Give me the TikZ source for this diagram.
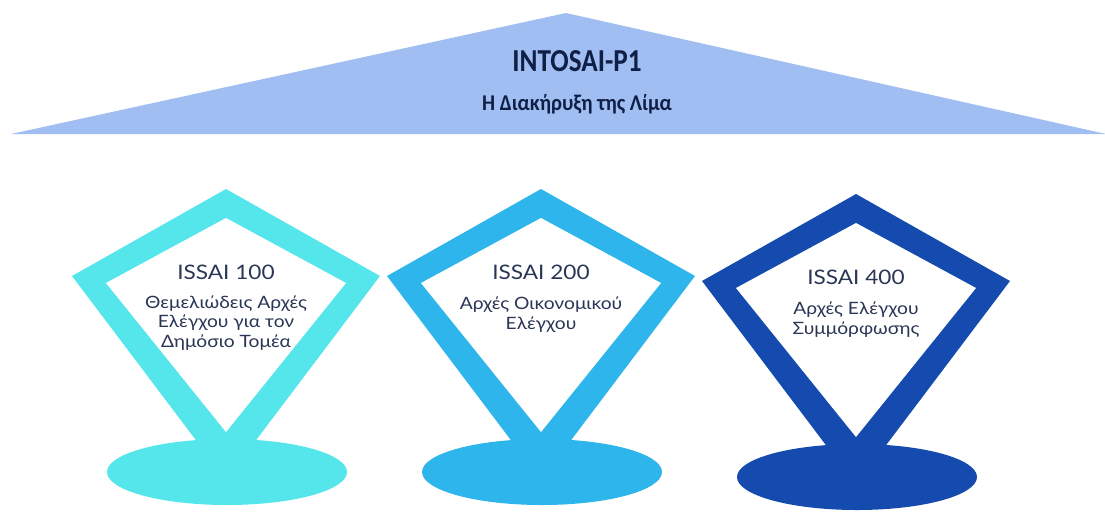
\documentclass[tikz,border=0pt]{standalone}
\usepackage{fontspec}
\setmainfont[FakeStretch=1.13]{Lato}
\newfontfamily\rooffont[FakeStretch=0.85]{Carlito}
\newfontfamily\roofsubfont[FakeStretch=0.92]{Carlito}
\usetikzlibrary{positioning}
\definecolor{roofblue}{HTML}{A0BEF2}
\definecolor{issaiA}{HTML}{55E6EC}
\definecolor{issaiB}{HTML}{2EB5EB}
\definecolor{issaiC}{HTML}{154BAE}
\definecolor{inkblue}{HTML}{2A3656}
\definecolor{roofink}{HTML}{0F1F45}

\begin{document}
\begin{tikzpicture}[x=1pt,y=-1pt,
  rooftitle/.style={font=\rooffont\bfseries\fontsize{32}{36}\selectfont,
    text=roofink,inner sep=0pt,anchor=base},
  roofsub/.style={font=\roofsubfont\bfseries\fontsize{22.5}{26}\selectfont,
    text=roofink,inner sep=0pt,anchor=base},
  issaititle/.style={font=\fontsize{20}{24}\selectfont,text=inkblue,
    inner sep=0pt,anchor=base},
  issaibody/.style={font=\fontsize{17}{19.5}\selectfont,text=inkblue,
    inner sep=0pt,align=center,anchor=base}]
  \useasboundingbox (0,0) rectangle (1105,512);
  % roof
  \fill[roofblue] (11,134) -- (566,13) -- (1106,134) -- cycle;
  \node[rooftitle] (intosai) at (577,71) {INTOSAI-P1};
  \node[roofsub] (lima) at (577,110) {Η Διακήρυξη της Λίμα};
  % pillars (body node sits on the baseline of its last line)
  \foreach \cx/\dy/\last/\col/\num/\body [count=\i] in
    {226/0/347/issaiA/100/{Θεμελιώδεις Αρχές\\Ελέγχου για τον\\Δημόσιο Τομέα},
     541/0/329/issaiB/200/{Αρχές Οικονομικού\\Ελέγχου},
     856/5/329/issaiC/400/{Αρχές Ελέγχου\\Συμμόρφωσης}}{
    \begin{scope}[yshift=-\dy pt]
      \fill[\col] (\cx,189) -- ({\cx-154},276) -- (\cx,480)
        -- ({\cx+154},276) -- cycle;
      \fill[white] (\cx,218) -- ({\cx-120},283) -- (\cx,432)
        -- ({\cx+120},283) -- cycle;
      \fill[\col] ({\cx+1},472) ellipse [x radius=120pt,y radius=33pt];
      \node[issaititle] (issai\i) at (\cx,279) {ISSAI \num};
      \node[issaibody] (body\i) at (\cx,\last) {\body};
    \end{scope}
  }
\end{tikzpicture}
\end{document}
